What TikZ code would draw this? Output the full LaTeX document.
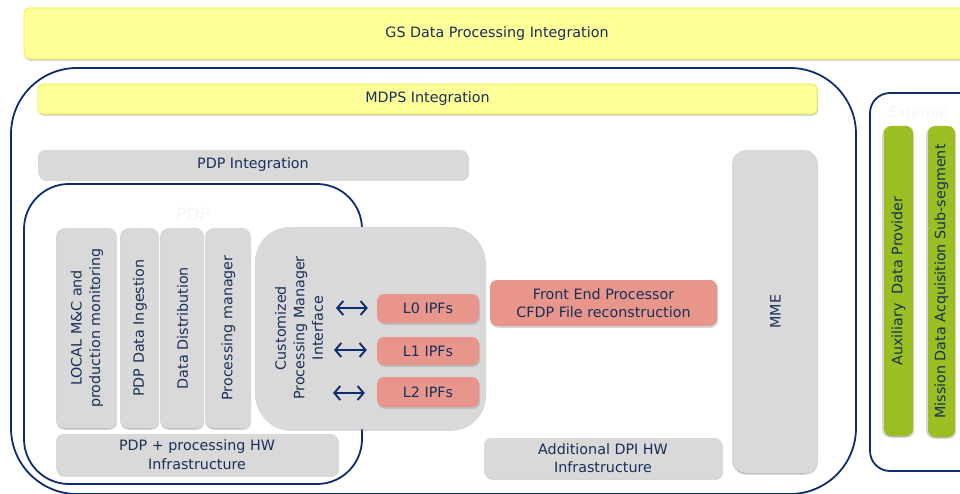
\documentclass[tikz,border=0pt]{standalone}
\usepackage{fontspec}
\setmainfont{DejaVu Sans}
\usepackage{tikz}
\usetikzlibrary{shadows, arrows.meta}
\definecolor{navy}{HTML}{0E2D6E}
\definecolor{txtc}{HTML}{172F58}
\definecolor{ylw}{HTML}{FFFF99}
\definecolor{ylwd}{HTML}{EDED3A}
\definecolor{gry}{HTML}{D9D9D9}
\definecolor{slm}{HTML}{E8968C}
\definecolor{grn}{HTML}{9BBE22}
\definecolor{faint}{HTML}{F5F5F5}
\tikzstyle{shd}=[drop shadow={shadow xshift=1pt, shadow yshift=-1.8pt,
                 opacity=0.35, fill=black!45}]
\tikzstyle{rshd}=[drop shadow={shadow xshift=-1.8pt, shadow yshift=-1pt,
                 opacity=0.35, fill=black!45}]
\tikzstyle{yb}=[shape=rectangle,
                rounded corners=5pt,
                fill=ylw,
                draw=ylwd,
                line width=0.8pt,
                inner sep=0pt,
                shd]
\tikzstyle{gb}=[shape=rectangle,
                rounded corners=7pt,
                fill=gry,
                align=center,
                inner sep=0pt,
                shd]
\tikzstyle{vb}=[gb, rotate=90, rshd]
\tikzstyle{sb}=[gb, fill=slm]
\tikzstyle{grb}=[gb, fill=grn, rotate=90, rshd]
\tikzstyle{frame}=[shape=rectangle,
                draw=navy,
                line width=1.8pt,
                inner sep=0pt]
\tikzstyle{arr}=[{Straight Barb[length=6pt, width=14pt]}-{Straight Barb[length=6pt, width=14pt]},
                draw=navy,
                line width=1.9pt]

\begin{document}
\begin{tikzpicture}[x=1pt, y=-1pt, text=txtc,
  font=\fontsize{14.3}{18.5}\selectfont]
\clip (0,0) rectangle (960,494);

% integration bars
\node[yb, minimum width=946, minimum height=51] (gs) at (497,33.5) {GS Data Processing Integration};
\node[frame, rounded corners=66pt, minimum width=845, minimum height=426] (mdps) at (433.5,281) {};
\node[yb, minimum width=779, minimum height=30] (mdpsint) at (427.5,99) {MDPS Integration};
\node[gb, minimum width=430, minimum height=29] (pdpint) at (253,164.5) {PDP Integration};

% PDP
\node[frame, rounded corners=45pt, minimum width=338, minimum height=300] (pdp) at (193,334) {};
\node[text=faint, font=\fontsize{17}{20}\selectfont] (pdplbl) at (193,214) {PDP};

\node[vb, minimum width=200, minimum height=58] (lmc) at (87,328) {LOCAL M\&C and\\production monitoring};
\node[vb, minimum width=200, minimum height=36] (pdi) at (140,328) {PDP Data Ingestion};
\node[vb, minimum width=200, minimum height=41] (dd) at (182.5,328) {Data Distribution};
\node[vb, minimum width=200, minimum height=43] (pm) at (228.5,328) {Processing manager};
\node[gb, rounded corners=35pt, minimum width=230, minimum height=202] (cpm) at (370,328) {};
\node[rotate=90, align=center, inner sep=0pt] (cpmi) at (299,328) {Customized\\Processing Manager\\Interface};

\node[sb, minimum width=102, minimum height=29] (l0) at (428,308.5) {L0 IPFs};
\node[sb, minimum width=102, minimum height=28] (l1) at (428,351) {L1 IPFs};
\node[sb, minimum width=102, minimum height=30] (l2) at (428,392) {L2 IPFs};

\node[gb, minimum width=282, minimum height=41] (hw) at (197,454.5) {PDP + processing HW\\Infrastructure};

% DPI
\node[sb, minimum width=227, minimum height=46] (fep) at (603.5,303) {Front End Processor\\CFDP File reconstruction};
\node[gb, minimum width=238, minimum height=40] (dpi) at (603,458) {Additional DPI HW\\Infrastructure};
\node[vb, rounded corners=12pt, minimum width=323, minimum height=83] (mme) at (775.5,311.5) {MME};

% external
\node[frame, rounded corners=20pt, minimum width=130, minimum height=378] (ext) at (935,282) {};
\node[text=faint] (extlbl) at (918,112) {External};
\node[grb, minimum width=310, minimum height=29] (aux) at (898.5,281) {Auxiliary\ \ Data Provider};
\node[grb, minimum width=311, minimum height=27] (mda) at (941.5,281.5) {Mission Data Acquisition Sub-segment};

% interface arrows
\coordinate (c0) at (336,308);
\coordinate (c1) at (334,350);
\coordinate (c2) at (333,393);
\draw[arr, shorten >=9pt] (c0) -- (c0 -| l0.west);
\draw[arr, shorten >=10pt] (c1) -- (c1 -| l1.west);
\draw[arr, shorten >=12pt] (c2) -- (c2 -| l2.west);

\end{tikzpicture}
\end{document}
